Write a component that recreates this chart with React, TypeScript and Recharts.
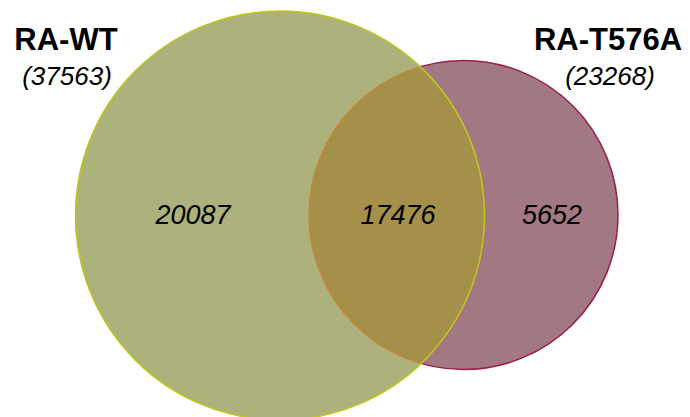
import React from "react";
import { ScatterChart, Scatter, XAxis, YAxis } from "recharts";

// ---- data ----
const setNames = ["RA-WT", "RA-T576A"];
const setTotals = [37563, 23268];
const regionLabels = ["RA-WT only", "both", "RA-T576A only"];
const regionCounts = [20087, 17476, 5652];

// ---- layout (chart units = pixels, 1:1 domain) ----
const W = 690;
const H = 417;
const leftCircle = { x: 280, y: 215.5, r: 204.5 };
const rightCircle = { x: 463.5, y: 215, r: 154.5 };

const circles = [
  { x: rightCircle.x, y: rightCircle.y, r: rightCircle.r, fill: "#a27883", stroke: "#9c1f45", name: setNames[1] },
  { x: leftCircle.x, y: leftCircle.y, r: leftCircle.r, fill: "#adb17c", stroke: "none", name: setNames[0] },
];
const overlap = [
  { x: rightCircle.x, y: rightCircle.y, r: rightCircle.r, dx: leftCircle.x - rightCircle.x, dy: leftCircle.y - rightCircle.y, lr: leftCircle.r },
];
const outline = [{ x: leftCircle.x, y: leftCircle.y, r: leftCircle.r }];

const titleLabels = [
  { x: 66, y: 50, text: setNames[0], kind: "title" },
  { x: 67, y: 85, text: `(${setTotals[0]})`, kind: "total" },
  { x: 608, y: 50, text: setNames[1], kind: "title" },
  { x: 610, y: 85, text: `(${setTotals[1]})`, kind: "total" },
];
const regionPos = [
  { x: 193, y: 224 },
  { x: 398, y: 224 },
  { x: 552, y: 224 },
];
const countLabels = regionCounts.map((c, i) => ({ ...regionPos[i], text: String(c), kind: "count", region: regionLabels[i] }));
const allLabels = [...titleLabels, ...countLabels];

const FONT = "'Liberation Sans', Arial, sans-serif";

const CircleShape = (p: any) => (
  <circle cx={p.cx} cy={p.cy} r={p.payload.r} fill={p.payload.fill} stroke={p.payload.stroke} strokeWidth={1.5} />
);

const OverlapShape = (p: any) => {
  const d = p.payload;
  return (
    <g>
      <defs>
        <clipPath id="leftClip">
          <circle cx={p.cx + d.dx} cy={p.cy + d.dy} r={d.lr} />
        </clipPath>
      </defs>
      <circle cx={p.cx} cy={p.cy} r={d.r} fill="#a5904a" stroke="#c4893a" strokeWidth={1.5} clipPath="url(#leftClip)" />
    </g>
  );
};

const OutlineShape = (p: any) => (
  <circle cx={p.cx} cy={p.cy} r={p.payload.r} fill="none" stroke="#c2c41e" strokeWidth={1.5} />
);

const LabelShape = (p: any) => {
  const d = p.payload;
  const style: any =
    d.kind === "title"
      ? { fontSize: 31, fontWeight: 700, fontStyle: "normal" }
      : d.kind === "total"
      ? { fontSize: 26, fontWeight: 400, fontStyle: "italic" }
      : { fontSize: 27, fontWeight: 400, fontStyle: "italic" };
  return (
    <text x={p.cx} y={p.cy} textAnchor="middle" fill="#000" fontFamily={FONT} {...style}>
      {d.text}
    </text>
  );
};

export default function App() {
  return (
    <div style={{ position: "absolute", left: 0, top: 0, width: W, height: H, background: "#fff" }}>
      <ScatterChart width={W} height={H} margin={{ top: 0, right: 0, bottom: 0, left: 0 }}>
        <XAxis type="number" dataKey="x" domain={[0, W]} hide allowDataOverflow />
        <YAxis type="number" dataKey="y" domain={[0, H]} reversed hide allowDataOverflow />
        <Scatter data={circles} shape={CircleShape} isAnimationActive={false} />
        <Scatter data={overlap} shape={OverlapShape} isAnimationActive={false} />
        <Scatter data={outline} shape={OutlineShape} isAnimationActive={false} />
        <Scatter data={allLabels} shape={LabelShape} isAnimationActive={false} />
      </ScatterChart>
    </div>
  );
}
